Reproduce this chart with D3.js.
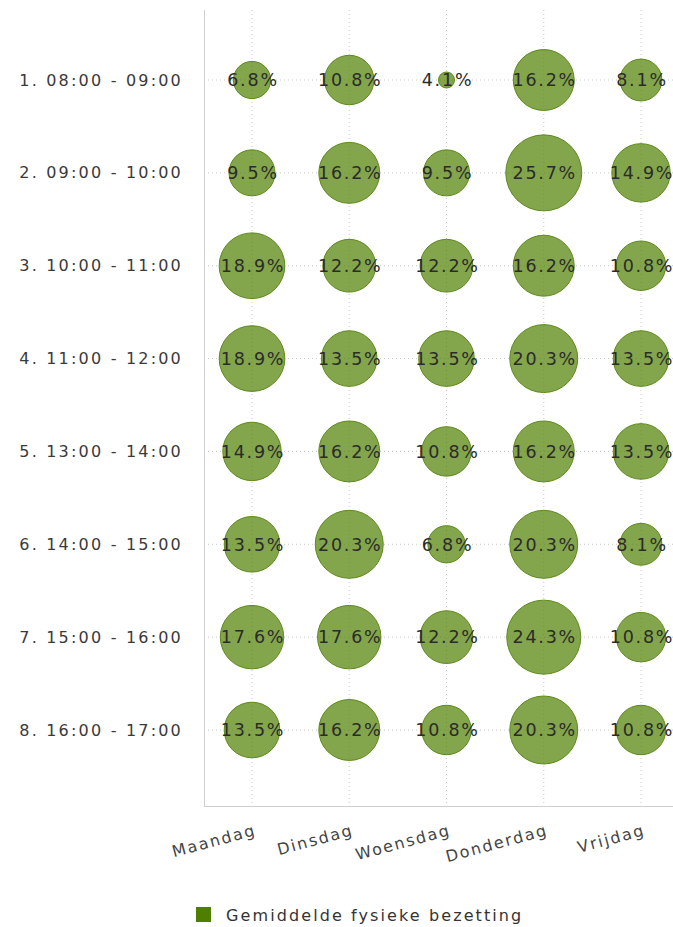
<!DOCTYPE html>
<html>
<head>
<meta charset="utf-8">
<script src="https://cdn.jsdelivr.net/npm/d3@7"></script>
<style>
  body { margin: 0; background: #fff; }
  svg { display: block; font-family: "DejaVu Sans", sans-serif; }
</style>
</head>
<body>
<svg id="chart" width="673" height="927"></svg>
<script>
// days along the bottom, time slots down the side
var days = ["Maandag", "Dinsdag", "Woensdag", "Donderdag", "Vrijdag"];
var slots = ["1. 08:00 - 09:00", "2. 09:00 - 10:00", "3. 10:00 - 11:00", "4. 11:00 - 12:00",
             "5. 13:00 - 14:00", "6. 14:00 - 15:00", "7. 15:00 - 16:00", "8. 16:00 - 17:00"];

// occupancy in % per slot (rows) and day (columns)
var slot1 = [6.8, 10.8, 4.1, 16.2, 8.1];
var slot2 = [9.5, 16.2, 9.5, 25.7, 14.9];
var slot3 = [18.9, 12.2, 12.2, 16.2, 10.8];
var slot4 = [18.9, 13.5, 13.5, 20.3, 13.5];
var slot5 = [14.9, 16.2, 10.8, 16.2, 13.5];
var slot6 = [13.5, 20.3, 6.8, 20.3, 8.1];
var slot7 = [17.6, 17.6, 12.2, 24.3, 10.8];
var slot8 = [13.5, 16.2, 10.8, 20.3, 10.8];
var rows = [slot1, slot2, slot3, slot4, slot5, slot6, slot7, slot8];

var seriesName = "Gemiddelde fysieke bezetting";

var svg = d3.select("#chart");
var plotLeft = 204, plotTop = 10, plotBottom = 806;

var x = d3.scalePoint().domain(days).range([252, 641]);
var y = d3.scalePoint().domain(slots).range([80, 730]);

var points = [];
rows.forEach(function (r, i) {
    r.forEach(function (v, j) {
        points.push({ slot: slots[i], day: days[j], value: v });
    });
});

// bubble diameter grows with sqrt of the normalised value
var zExtent = d3.extent(points, function (d) { return d.value; });
var zNorm = d3.scaleLinear().domain(zExtent).range([0, 1]);
var diam = d3.scaleLinear().domain([0, 1]).range([16, 76]);
function radius(v) { return diam(Math.sqrt(zNorm(v))) / 2; }

// grid
svg.append("g").selectAll("line")
    .data(days).enter().append("line")
    .attr("x1", function (d) { return x(d); })
    .attr("x2", function (d) { return x(d); })
    .attr("y1", plotTop).attr("y2", plotBottom)
    .attr("stroke", "#c8c8c8").attr("stroke-dasharray", "1,3");

svg.append("g").selectAll("line")
    .data(slots).enter().append("line")
    .attr("x1", plotLeft).attr("x2", 673)
    .attr("y1", function (d) { return y(d); })
    .attr("y2", function (d) { return y(d); })
    .attr("stroke", "#c8c8c8").attr("stroke-dasharray", "1,3");

// axis lines
svg.append("line").attr("x1", plotLeft + 0.5).attr("x2", plotLeft + 0.5)
    .attr("y1", plotTop).attr("y2", plotBottom)
    .attr("stroke", "#ccd0d6");
svg.append("line").attr("x1", plotLeft).attr("x2", 673)
    .attr("y1", plotBottom + 0.5).attr("y2", plotBottom + 0.5)
    .attr("stroke", "#ccd0d6");

// y labels
svg.append("g").selectAll("text")
    .data(slots).enter().append("text")
    .attr("x", 183)
    .attr("y", function (d) { return y(d); })
    .attr("dy", "0.35em")
    .attr("text-anchor", "end")
    .attr("font-size", 16)
    .attr("letter-spacing", 2.2)
    .attr("fill", "#3a3a3a")
    .text(function (d) { return d; });

// x labels, slightly rotated
svg.append("g").selectAll("text")
    .data(days).enter().append("text")
    .attr("text-anchor", "end")
    .attr("transform", function (d) { return "translate(" + (x(d) + 5) + "," + (plotBottom + 29) + ") rotate(-15)"; })
    .attr("font-size", 16)
    .attr("letter-spacing", 1.8)
    .attr("fill", "#444")
    .text(function (d) { return d; });

// bubbles
svg.append("g").selectAll("circle")
    .data(points).enter().append("circle")
    .attr("cx", function (d) { return x(d.day); })
    .attr("cy", function (d) { return y(d.slot); })
    .attr("r", function (d) { return radius(d.value); })
    .attr("fill", "#4f7f00")
    .attr("fill-opacity", 0.7)
    .attr("stroke", "#5d8a18")
    .attr("stroke-width", 1);

// labels on bubbles
svg.append("g").selectAll("text")
    .data(points).enter().append("text")
    .attr("x", function (d) { return x(d.day) + 1; })
    .attr("y", function (d) { return y(d.slot); })
    .attr("dy", "0.36em")
    .attr("text-anchor", "middle")
    .attr("font-size", 17.5)
    .attr("letter-spacing", 1.8)
    .attr("fill", "#2b2b2b")
    .text(function (d) { return d.value.toFixed(1) + "%"; });

// legend
var legend = svg.append("g").attr("transform", "translate(196,907)");
legend.append("rect").attr("width", 15).attr("height", 15).attr("fill", "#4f7f00");
legend.append("text").attr("x", 30).attr("y", 8).attr("dy", "0.38em")
    .attr("font-size", 16).attr("letter-spacing", 2.1)
    .attr("fill", "#333").text(seriesName);
</script>
</body>
</html>
